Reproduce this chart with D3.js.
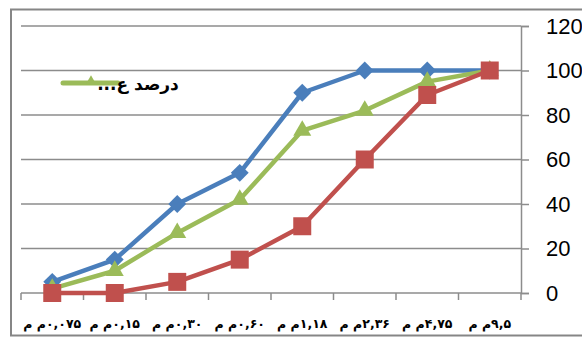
<!DOCTYPE html>
<html>
<head>
<meta charset="utf-8">
<script src="https://cdn.jsdelivr.net/npm/d3@7"></script>
<style>
  html, body { margin: 0; padding: 0; background: #fff; }
  svg { display: block; }
</style>
</head>
<body>
<svg id="chart" width="582" height="345"></svg>
<script>
// Sieve sizes (mm), shown as category labels
const categories = ["۰,۰۷۵", "۰,۱۵", "۰,۳۰", "۰,۶۰", "۱,۱۸", "۲,۳۶", "۴,۷۵", "۹,۵"];
const unitLabel = "م م";

// Cumulative percent passing for the three gradation curves
const blueValues  = [5, 15, 40, 54, 90, 100, 100, 100];
const greenValues = [2, 10, 27, 42, 73, 82, 95, 100];
const redValues   = [0, 0, 5, 15, 30, 60, 89, 100];

const yTicks = [0, 20, 40, 60, 80, 100, 120];
const legendLabel = "درصد ع...";

const svg = d3.select("#chart");
const plot = { left: 21, right: 521, top: 26, bottom: 293 };

// Outer chart frame (extends past the right edge)
svg.append("rect")
  .attr("x", 11).attr("y", 9.5)
  .attr("width", 620).attr("height", 326)
  .attr("fill", "#fff")
  .attr("stroke", "#868686").attr("stroke-width", 2);

const x = d3.scaleBand().domain(categories).range([plot.left, plot.right]).padding(0);
const y = d3.scaleLinear().domain([0, 120]).range([plot.bottom, plot.top]);
const cx = d => x(d) + x.bandwidth() / 2;

const gridColor = "#8c8c8c";

// Horizontal gridlines
svg.append("g").selectAll("line")
  .data(yTicks.filter(t => t > 0))
  .join("line")
  .attr("x1", plot.left).attr("x2", plot.right)
  .attr("y1", d => y(d)).attr("y2", d => y(d))
  .attr("stroke", gridColor).attr("stroke-width", 1.5);

// Right-hand value axis
const yAxis = d3.axisRight(y).tickValues(yTicks).tickSize(8).tickPadding(17).tickFormat(d3.format("d"));
const gy = svg.append("g").attr("transform", `translate(${plot.right},0)`).call(yAxis);
gy.select(".domain").attr("stroke", gridColor).attr("stroke-width", 1.5);
gy.selectAll(".tick line").attr("stroke", gridColor).attr("stroke-width", 1.5);
gy.selectAll(".tick text")
  .attr("fill", "#000")
  .attr("font-family", "'Liberation Sans', Arial, sans-serif")
  .attr("font-size", 22);

// Category axis with ticks between categories
const boundaries = d3.range(categories.length + 1).map(i => plot.left + i * x.bandwidth());
svg.append("line")
  .attr("x1", plot.left).attr("x2", plot.right)
  .attr("y1", plot.bottom).attr("y2", plot.bottom)
  .attr("stroke", gridColor).attr("stroke-width", 1.5);
svg.append("g").selectAll("line")
  .data(boundaries)
  .join("line")
  .attr("x1", d => d).attr("x2", d => d)
  .attr("y1", plot.bottom).attr("y2", plot.bottom + 7)
  .attr("stroke", gridColor).attr("stroke-width", 1.5);

svg.append("g").selectAll("text")
  .data(categories)
  .join("text")
  .attr("x", d => cx(d))
  .attr("y", 328)
  .attr("text-anchor", "middle")
  .attr("font-family", "'DejaVu Sans', sans-serif")
  .attr("font-weight", "bold")
  .attr("font-size", 12.5)
  .attr("fill", "#000")
  .text(d => unitLabel + "\u200E" + d);

// Series
const series = [
  { values: blueValues,  color: "#4a7ebb", symbol: "diamond" },
  { values: greenValues, color: "#9bbb59", symbol: "triangle" },
  { values: redValues,   color: "#c0504d", symbol: "square" }
];

const line = d3.line().x((d, i) => cx(categories[i])).y(d => y(d));

series.forEach(s => {
  const g = svg.append("g");
  g.append("path")
    .attr("d", line(s.values))
    .attr("fill", "none")
    .attr("stroke", s.color)
    .attr("stroke-width", 4.5)
    .attr("stroke-linejoin", "round");

  let sym, rot = 0;
  if (s.symbol === "diamond") { sym = d3.symbol(d3.symbolSquare, 160); rot = 45; }
  else if (s.symbol === "triangle") { sym = d3.symbol(d3.symbolTriangle, 140); }
  else { sym = d3.symbol(d3.symbolSquare, 324); }

  g.selectAll("path.m")
    .data(s.values)
    .join("path")
    .attr("class", "m")
    .attr("d", sym)
    .attr("transform", (d, i) => `translate(${cx(categories[i])},${y(d)}) rotate(${rot})`)
    .attr("fill", s.color);
});

// Legend entry
const lg = svg.append("g");
lg.append("line")
  .attr("x1", 63).attr("x2", 118).attr("y1", 83).attr("y2", 83)
  .attr("stroke", "#9bbb59").attr("stroke-width", 5).attr("stroke-linecap", "round");
lg.append("path")
  .attr("d", d3.symbol(d3.symbolTriangle, 44))
  .attr("transform", "translate(91,81)")
  .attr("fill", "#9bbb59");
lg.append("text")
  .attr("x", 138).attr("y", 90)
  .attr("direction", "rtl")
  .attr("text-anchor", "middle")
  .attr("font-family", "'DejaVu Sans', sans-serif")
  .attr("font-weight", "bold")
  .attr("font-size", 17)
  .attr("fill", "#000")
  .text(legendLabel);
</script>
</body>
</html>
